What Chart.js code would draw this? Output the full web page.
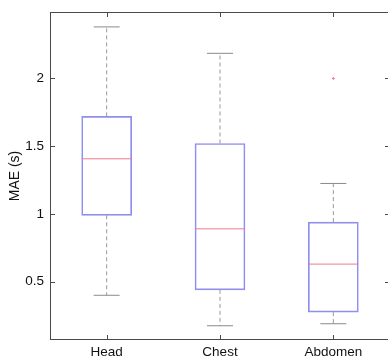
<!DOCTYPE html>
<html>
<head>
<meta charset="utf-8">
<script src="https://cdn.jsdelivr.net/npm/chart.js@4.4.1/dist/chart.umd.min.js"></script>
<style>
  html, body { margin: 0; padding: 0; background: #fff; overflow: hidden; }
  #wrap { position: relative; width: 392px; height: 356px; }
</style>
</head>
<body>
<div id="wrap"><canvas id="chart"></canvas></div>
<script>
/* ── Data ── */
const categories  = ['Head', 'Chest', 'Abdomen'];
const whiskerHigh = [2.38, 2.185, 1.225];
const boxQ3       = [1.72, 1.52, 0.94];
const medians     = [1.407, 0.89, 0.63];
const boxQ1       = [0.99, 0.44, 0.276];
const whiskerLow  = [0.40, 0.175, 0.19];
const outliers    = [{ x: 'Abdomen', y: 2.0 }];
const yTickValues = [0.5, 1, 1.5, 2];
const yMin = 0.07, yMax = 2.49;

const AXIS_COLOR = '#4a4a4a';
const FONT = 'Liberation Sans, Arial, Helvetica, sans-serif';

// whisker segments: q3 -> high, gap, q1 -> low, gap
const whiskerPts = [];
categories.forEach((c, i) => {
  whiskerPts.push({ x: c, y: boxQ3[i] }, { x: c, y: whiskerHigh[i] }, { x: c, y: null });
  whiskerPts.push({ x: c, y: boxQ1[i] }, { x: c, y: whiskerLow[i] }, { x: c, y: null });
});
const capPts = [];
categories.forEach((c, i) => {
  capPts.push({ x: c, y: whiskerHigh[i] }, { x: c, y: whiskerLow[i] });
});

/* ── matlab-style axes box with inward ticks on all four sides ── */
const axesBox = {
  id: 'axesBox',
  afterDraw(chart) {
    const { ctx, chartArea: a, scales } = chart;
    const L = Math.round(a.left), R = Math.round(a.right) - 1;
    const T = Math.round(a.top), B = Math.round(a.bottom) - 1;
    const tick = 4;
    ctx.save();
    ctx.fillStyle = AXIS_COLOR;
    ctx.fillRect(L, T, R - L + 1, 1);   // top
    ctx.fillRect(L, B, R - L + 1, 1);   // bottom
    ctx.fillRect(L, T, 1, B - T + 1);   // left
    ctx.fillRect(R, T, 1, B - T + 1);   // right
    categories.forEach((c, i) => {
      const px = Math.round(scales.x.getPixelForValue(i));
      ctx.fillRect(px, B - tick, 1, tick);
      ctx.fillRect(px, T + 1, 1, tick);
    });
    yTickValues.forEach(v => {
      const py = Math.round(scales.y.getPixelForValue(v));
      ctx.fillRect(L + 1, py, tick, 1);
      ctx.fillRect(R - tick, py, tick, 1);
    });
    ctx.restore();
  }
};

const noPad = s => { s.paddingTop = 0; s.paddingBottom = 0; s.paddingLeft = 0; s.paddingRight = 0; };

new Chart(document.getElementById('chart'), {
  type: 'bar',
  data: {
    labels: categories,
    datasets: [
      {
        label: 'box',
        data: categories.map((c, i) => [boxQ1[i], boxQ3[i]]),
        backgroundColor: 'rgba(255,255,255,0)',
        borderColor: '#8f8ff0',
        borderWidth: 1,
        borderSkipped: false,
        barThickness: 50,
        order: 2
      },
      {
        type: 'line',
        label: 'whiskers',
        data: whiskerPts,
        borderColor: '#9a9a9a',
        borderWidth: 1,
        borderDash: [4, 3],
        pointRadius: 0,
        spanGaps: false,
        order: 3
      },
      {
        type: 'line',
        label: 'caps',
        data: capPts,
        showLine: false,
        pointStyle: 'line',
        pointRadius: 13,
        pointBorderWidth: 1,
        pointBorderColor: '#8a8a8a',
        order: 1
      },
      {
        type: 'line',
        label: 'median',
        data: categories.map((c, i) => ({ x: c, y: medians[i] })),
        showLine: false,
        pointStyle: 'line',
        pointRadius: 25,
        pointBorderWidth: 1,
        pointBorderColor: '#f07a8c',
        order: 0
      },
      {
        type: 'line',
        label: 'outliers',
        data: outliers,
        showLine: false,
        pointStyle: 'cross',
        pointRadius: 1.5,
        pointBorderWidth: 1,
        pointBorderColor: '#f07a8c',
        order: 0
      }
    ]
  },
  options: {
    responsive: true,
    maintainAspectRatio: false,
    animation: false,
    events: [],
    layout: { autoPadding: false, padding: { top: 12, right: 2, left: 0, bottom: 0 } },
    plugins: { legend: { display: false }, tooltip: { enabled: false } },
    scales: {
      x: {
        type: 'category',
        position: 'bottom',
        offset: true,
        grid: { display: false, drawTicks: false },
        border: { display: false },
        ticks: { color: '#111', padding: 4, font: { family: FONT, size: 13.5 } },
        afterFit: s => { s.height = 16; noPad(s); }
      },
      y: {
        type: 'linear',
        position: 'left',
        min: yMin,
        max: yMax,
        afterBuildTicks: s => { s.ticks = yTickValues.map(v => ({ value: v })); },
        grid: { display: false, drawTicks: false },
        border: { display: false },
        ticks: {
          color: '#111',
          padding: 6,
          font: { family: FONT, size: 13.5 },
          callback: v => String(v)
        },
        title: {
          display: true,
          text: 'MAE (s)',
          color: '#111',
          padding: { top: 7, bottom: 0 },
          font: { family: FONT, size: 14 }
        },
        afterFit: s => { s.width = 50; noPad(s); }
      }
    }
  },
  plugins: [axesBox]
});
</script>
</body>
</html>
